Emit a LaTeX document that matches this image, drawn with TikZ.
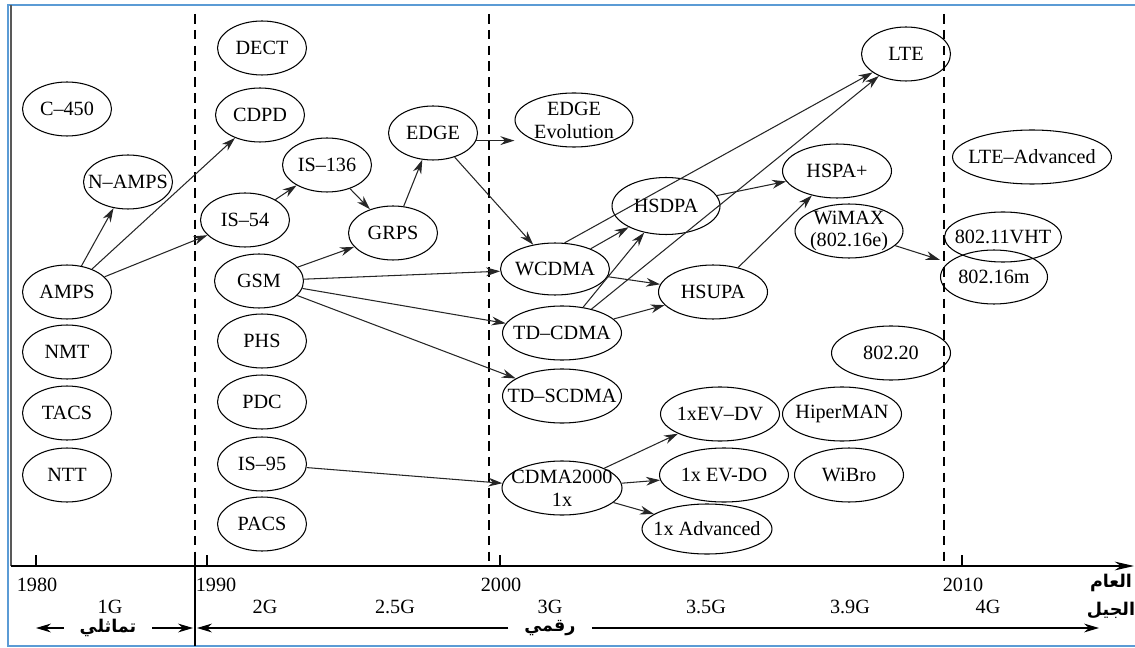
\documentclass[tikz,border=0pt]{standalone}
\usepackage{fontspec}
\setmainfont{Liberation Serif}
\newfontfamily\arabicfont[Script=Arabic]{DejaVu Sans}
\TeXXeTstate=1
\usetikzlibrary{arrows.meta,shapes.geometric}
\definecolor{frameblue}{RGB}{91,155,213}

\begin{document}
\begin{tikzpicture}[x=0.02cm,y=-0.02cm,
	gen/.style={ellipse,draw,line width=0.6pt,inner sep=-3cm,minimum width=1.78cm,minimum height=1.08cm,align=center,font=\fontsize{11.5}{13}\selectfont},
	arr/.style={-{Stealth[length=8pt,width=5pt]},line width=0.6pt,black!85},
	tip/.style={-{Stealth[length=8.5pt,width=5pt]},line width=0.6pt},
	lbl/.style={font=\fontsize{11.5}{13}\selectfont},
	arab/.style={font=\arabicfont\bfseries\fontsize{10}{12}\selectfont,inner xsep=9pt}]
	\useasboundingbox (0,0) rectangle (1135,648);
	\draw[frameblue,line width=1.2pt] (1140,5) -| (8,646) -- (1140,646);
	\draw[black!65,line width=1.2pt] (11,5) -- (11,566);
	\draw[-{Stealth[length=11pt,width=5pt]},line width=0.6pt] (11,566) -- (1134,566);
	\foreach \x in {195,489,944}
		\draw[line width=0.6pt,dash pattern=on 5.5pt off 3.5pt] (\x,14) -- (\x,566);
	\draw[line width=0.6pt] (195,553) -- (195,646);
	\foreach \x in {36,207,500,962}
		\draw[line width=0.6pt] (\x,555) -- (\x,566);

	\node[gen] (c450) at (67,109) {C–450};
	\node[gen] (namps) at (128,182) {N–AMPS};
	\node[gen] (amps) at (67,292) {AMPS};
	\node[gen] (nmt) at (67,352) {NMT};
	\node[gen] (tacs) at (67,413) {TACS};
	\node[gen] (ntt) at (67,475) {NTT};
	\node[gen] (dect) at (262,48) {DECT};
	\node[gen] (cdpd) at (260,115) {CDPD};
	\node[gen] (is54) at (245,220) {IS–54};
	\node[gen] (is136) at (327,165) {IS–136};
	\node[gen] (gsm) at (259,281) {GSM};
	\node[gen] (phs) at (262,341) {PHS};
	\node[gen] (pdc) at (262,402) {PDC};
	\node[gen] (is95) at (262,464) {IS–95};
	\node[gen] (pacs) at (262,524) {PACS};
	\node[gen] (grps) at (393,233) {GRPS};
	\node[gen] (edge) at (433,133) {EDGE};
	\node[gen,minimum width=2.36cm] (edgeev) at (574,120) {EDGE\\Evolution};
	\node[gen,minimum width=2.18cm,minimum height=1.04cm] (wcdma) at (555,269) {WCDMA};
	\node[gen,minimum width=2.38cm] (tdcdma) at (562,333) {TD–CDMA};
	\node[gen,minimum width=2.38cm] (tdscdma) at (562,396) {TD–SCDMA};
	\node[gen,minimum width=2.4cm] (cdma) at (562,488) {CDMA2000\\1x};
	\node[gen,minimum width=2.16cm,minimum height=1.14cm] (hsdpa) at (666,206) {HSDPA};
	\node[gen,minimum width=2.18cm] (hsupa) at (713,292) {HSUPA};
	\node[gen,minimum width=2.38cm] (evdv) at (720,414) {1xEV–DV};
	\node[gen,minimum width=2.58cm] (evdo) at (724,475) {1x EV-DO};
	\node[gen,minimum width=2.6cm,minimum height=1cm] (adv) at (707,529) {1x Advanced};
	\node[gen] (lte) at (906,54) {LTE};
	\node[gen,minimum width=2.18cm] (hspa) at (837,171) {HSPA+};
	\node[gen,minimum width=2.16cm] (wimax) at (849,231) {WiMAX\\(802.16e)};
	\node[gen,minimum width=2.38cm] (ieee20) at (891,353) {802.20};
	\node[gen,minimum width=2.38cm] (hiper) at (842,414) {HiperMAN};
	\node[gen,minimum width=2.18cm] (wibro) at (849,475) {WiBro};
	\node[gen,minimum width=3.18cm] (lteadv) at (1032,157) {LTE–Advanced};
	\node[gen,minimum width=2.34cm,minimum height=1cm] (vht) at (1003,237) {802.11VHT};
	\node[gen,minimum width=2.14cm] (m16) at (994,277) {802.16m};

	\draw[arr] (amps) -- (namps);
	\draw[arr] (amps) -- (cdpd);
	\draw[arr] (amps) -- (is54);
	\draw[arr] (is54) -- (is136);
	\draw[arr] (is136) -- (grps);
	\draw[arr] (gsm) -- (grps);
	\draw[arr] (grps) -- (edge);
	\draw[arr] (edge.-10) -- (edge.-10 -| edgeev.west);
	\draw[arr] (edge) -- (wcdma);
	\draw[arr] (gsm) -- (wcdma);
	\draw[arr] (gsm) -- (tdcdma);
	\draw[arr] (gsm) -- (tdscdma);
	\draw[arr] (wcdma) -- (hsdpa);
	\draw[arr] (wcdma) -- (hsupa);
	\draw[arr] (wcdma.70) -- (lte);
	\draw[arr] (tdcdma) -- (hsdpa);
	\draw[arr] (tdcdma) -- (lte);
	\draw[arr] (tdcdma) -- (hsupa);
	\draw[arr] (hsdpa) -- (hspa);
	\draw[arr] (hsupa) -- (hspa);
	\draw[arr,shorten >=5pt] (wimax) -- (m16);
	\draw[arr] (is95) -- (cdma);
	\draw[arr] (cdma) -- (evdv);
	\draw[arr] (cdma) -- (evdo);
	\draw[arr] (cdma) -- (adv);

	\node[lbl] (y1980) at (37,585) {1980};
	\node[lbl] (y1990) at (216,585) {1990};
	\node[lbl] (y2000) at (501,585) {2000};
	\node[lbl] (y2010) at (963,585) {2010};
	\node[lbl] (g1) at (110,607) {1G};
	\node[lbl] (g2) at (265,607) {2G};
	\node[lbl] (g25) at (395,607) {2.5G};
	\node[lbl] (g3) at (550,607) {3G};
	\node[lbl] (g35) at (706,607) {3.5G};
	\node[lbl] (g39) at (850,607) {3.9G};
	\node[lbl] (g4) at (988,607) {4G};
	\node[arab,inner xsep=0pt] (year) at (1111,583) {\beginR العام\endR};
	\node[arab,inner xsep=0pt] (gener) at (1111,610) {\beginR الجيل\endR};
	\node[arab] (analog) at (108,628) {\beginR تماثلي\endR};
	\node[arab] (digital) at (550,628) {\beginR رقمي\endR};
	\coordinate (a1) at (36,628);
	\coordinate (a2) at (193,628);
	\coordinate (d1) at (197,628);
	\coordinate (d2) at (1099,628);
	\draw[tip] (analog) -- (a1);
	\draw[tip] (analog) -- (a2);
	\draw[tip] (digital) -- (d1);
	\draw[tip] (digital) -- (d2);
\end{tikzpicture}
\end{document}
